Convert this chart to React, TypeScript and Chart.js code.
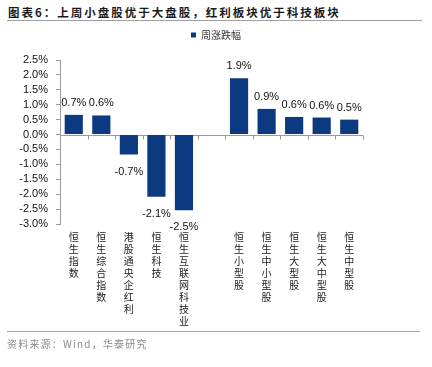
import React, { useEffect, useRef } from 'react';
import { Chart, registerables } from 'chart.js';

Chart.register(...registerables);

const categories = [
  '恒生指数',
  '恒生综合指数',
  '港股通央企红利',
  '恒生科技',
  '恒生互联网科技业',
  '',
  '恒生小型股',
  '恒生中小型股',
  '恒生大型股',
  '恒生大中型股',
  '恒生中型股',
];
const weeklyChange: (number | null)[] = [0.66, 0.64, -0.67, -2.09, -2.54, null, 1.89, 0.86, 0.59, 0.57, 0.5];
const seriesName = '周涨跌幅';
const yMin = -3.0;
const yMax = 2.5;
const yStep = 0.5;

const titleText = '图表6：上周小盘股优于大盘股，红利板块优于科技板块';
const sourceText = '资料来源：Wind，华泰研究';

const BAR_COLOR = '#0B3A80';
const AXIS_COLOR = '#9a9a9a';

export default function App() {
  const canvasRef = useRef<HTMLCanvasElement | null>(null);

  useEffect(() => {
    const canvas = canvasRef.current;
    if (!canvas) return;

    const legendMargin = {
      id: 'legendMargin',
      beforeInit(chart: any) {
        const legend = chart.legend;
        if (!legend) return;
        const origFit = legend.fit;
        legend.fit = function () {
          origFit.call(this);
          this.height += 10;
        };
      },
    };

    const zeroAxis = {
      id: 'zeroAxis',
      beforeDatasetsDraw(chart: any) {
        const { ctx, chartArea, scales } = chart;
        const y0 = Math.round(scales.y.getPixelForValue(0)) + 0.5;
        const n = categories.length;
        const w = (chartArea.right - chartArea.left) / n;
        ctx.save();
        ctx.strokeStyle = AXIS_COLOR;
        ctx.lineWidth = 1;
        ctx.beginPath();
        ctx.moveTo(chartArea.left, y0);
        ctx.lineTo(chartArea.right, y0);
        for (let i = 1; i <= n; i++) {
          const x = Math.round(chartArea.left + i * w) + 0.5;
          ctx.moveTo(x, y0);
          ctx.lineTo(x, y0 + 4);
        }
        ctx.stroke();
        ctx.restore();
      },
    };

    const valueLabels = {
      id: 'valueLabels',
      afterDatasetsDraw(chart: any) {
        const { ctx } = chart;
        const meta = chart.getDatasetMeta(0);
        ctx.save();
        ctx.font = '11px "Liberation Sans", Arial, sans-serif';
        ctx.fillStyle = '#111';
        ctx.textAlign = 'center';
        ctx.textBaseline = 'alphabetic';
        meta.data.forEach((bar: any, i: number) => {
          const v = weeklyChange[i];
          if (v === null || v === undefined) return;
          const txt = v.toFixed(1) + '%';
          if (v >= 0) {
            ctx.fillText(txt, bar.x, bar.y - 9);
          } else {
            ctx.fillText(txt, bar.x, bar.y + 20);
          }
        });
        ctx.restore();
      },
    };

    const chart = new Chart(canvas, {
      type: 'bar',
      data: {
        labels: categories.map((c) => (c ? c.split('') : '')),
        datasets: [
          {
            label: seriesName,
            data: weeklyChange,
            backgroundColor: BAR_COLOR,
            borderWidth: 0,
            categoryPercentage: 1,
            barPercentage: 0.66,
          },
        ],
      },
      options: {
        animation: false,
        responsive: true,
        maintainAspectRatio: false,
        layout: { padding: { left: 0, right: 0, top: 0, bottom: 0 } },
        plugins: {
          legend: {
            display: true,
            position: 'top',
            labels: {
              boxWidth: 5,
              boxHeight: 5,
              padding: 6,
              color: '#333',
              font: { size: 10, family: '"Noto Sans CJK SC", sans-serif' },
            },
          },
          tooltip: { enabled: false },
        },
        scales: {
          x: {
            grid: { display: false, drawTicks: false, tickLength: 0 },
            border: { display: false },
            ticks: {
              maxRotation: 0,
              minRotation: 0,
              autoSkip: false,
              padding: 7,
              color: '#222',
              font: { size: 10, lineHeight: 1.2, family: '"Noto Sans CJK SC", sans-serif' },
            },
          },
          y: {
            min: yMin,
            max: yMax,
            afterFit(scale: any) {
              scale.width = 52;
            },
            ticks: {
              stepSize: yStep,
              autoSkip: false,
              padding: 8,
              color: '#111',
              font: { size: 11, family: '"Liberation Sans", Arial, sans-serif' },
              callback: (v: any) => Number(v).toFixed(1) + '%',
            },
            grid: {
              display: true,
              drawOnChartArea: false,
              drawTicks: true,
              tickLength: 4,
              color: AXIS_COLOR,
            },
            border: { display: true, color: AXIS_COLOR },
          },
          yRight: {
            position: 'right',
            afterFit(scale: any) {
              scale.width = 61;
            },
            ticks: { display: false },
            grid: { display: false },
            border: { display: false },
          },
        },
      } as any,
      plugins: [legendMargin, zeroAxis, valueLabels],
    });

    return () => chart.destroy();
  }, []);

  return (
    <div style={{ position: 'absolute', left: 0, top: 0, width: 432, height: 367, background: '#fff', overflow: 'hidden' }}>
      <div
        style={{
          position: 'absolute',
          left: 8,
          top: 5,
          fontFamily: '"Noto Sans CJK SC", sans-serif',
          fontWeight: 700,
          fontSize: 11.5,
          letterSpacing: 2,
          lineHeight: '15px',
          color: '#1a1a1a',
          whiteSpace: 'nowrap',
        }}
      >
        {titleText}
      </div>
      <div style={{ position: 'absolute', left: 7, top: 20, width: 415, height: 1, background: '#a0a0a0' }} />
      <div style={{ position: 'absolute', left: 8, top: 24, width: 416, height: 310 }}>
        <canvas ref={canvasRef} />
      </div>
      <div style={{ position: 'absolute', left: 7, top: 331, width: 413, height: 1, background: '#a8a8a8' }} />
      <div
        style={{
          position: 'absolute',
          left: 7,
          top: 337,
          fontFamily: '"Noto Sans CJK SC", sans-serif',
          fontSize: 10,
          letterSpacing: 1.2,
          lineHeight: '14px',
          color: '#8a8a8a',
          whiteSpace: 'nowrap',
        }}
      >
        {sourceText}
      </div>
    </div>
  );
}
